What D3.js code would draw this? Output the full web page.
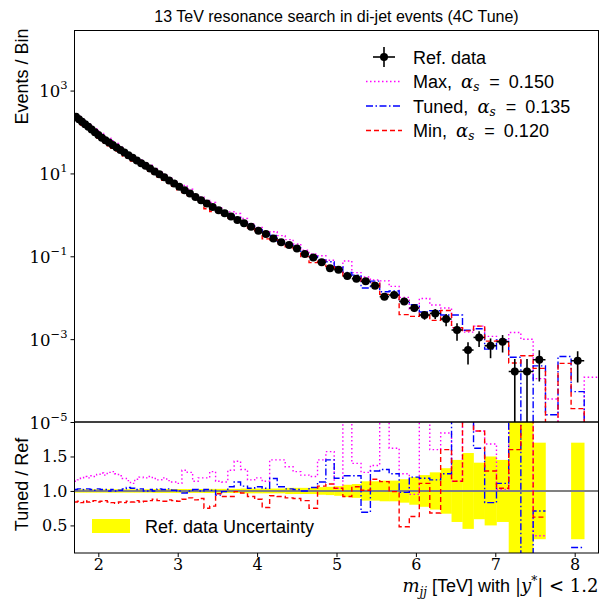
<!doctype html>
<html>
<head>
<meta charset="utf-8">
<title>13 TeV resonance search in di-jet events</title>
<script src="https://cdn.jsdelivr.net/npm/d3@7"></script>
<style>
  html, body { margin: 0; padding: 0; background: #fff; }
  svg { display: block; }
  .sans { font-family: "Liberation Sans", Arial, sans-serif; }
  .serif { font-family: "DejaVu Serif", "Liberation Serif", serif; }
</style>
</head>
<body>
<div id="chart"></div>
<script>
// ---- data ----
// bin edges, m_jj in TeV
const binEdges = [1.700, 1.737, 1.775, 1.814, 1.854, 1.895, 1.936, 1.979, 2.022, 2.066,
  2.112, 2.158, 2.205, 2.254, 2.303, 2.353, 2.405, 2.458, 2.512, 2.567,
  2.623, 2.680, 2.739, 2.799, 2.861, 2.923, 2.987, 3.053, 3.120, 3.188,
  3.258, 3.330, 3.403, 3.477, 3.553, 3.631, 3.711, 3.792, 3.879, 3.969,
  4.064, 4.158, 4.253, 4.354, 4.453, 4.550, 4.654, 4.761, 4.866, 4.971,
  5.080, 5.193, 5.309, 5.427, 5.544, 5.663, 5.789, 5.917, 6.043, 6.175,
  6.312, 6.449, 6.587, 6.726, 6.866, 7.015, 7.169, 7.322, 7.477, 7.632,
  7.790, 7.955, 8.120, 8.300];

// reference data, events / bin (null = empty bin)
const refData = [234, 204, 177, 154, 134, 115, 99.3, 85.1, 72.8, 63.2,
  55.5, 48.5, 42.3, 36.7, 31.8, 27.5, 23.8, 20.6, 17.7, 15.3,
  13.1, 11.2, 9.55, 8.07, 6.79, 5.69, 4.75, 3.95, 3.27, 2.71,
  2.26, 1.87, 1.55, 1.30, 1.09, 0.910, 0.755, 0.624, 0.519, 0.415,
  0.346, 0.270, 0.217, 0.187, 0.155, 0.114, 0.0940, 0.0713, 0.0511, 0.0474,
  0.0334, 0.0288, 0.0248, 0.0195, 0.0106, 0.0116, 0.00815, 0.00564, 0.00382, 0.00418,
  0.00306, 0.00166, 0.000546, 0.00110, 0.000693, 0.000865, 0.000166, 0.000166, 0.000318, null,
  null, 0.000301, null];

// relative uncertainty of the reference data
const refRelErr = [0.025, 0.025, 0.025, 0.025, 0.025, 0.025, 0.025, 0.025, 0.025, 0.025,
  0.025, 0.025, 0.025, 0.025, 0.025, 0.025, 0.025, 0.025, 0.025, 0.025,
  0.025, 0.028, 0.028, 0.028, 0.028, 0.028, 0.028, 0.028, 0.028, 0.028,
  0.028, 0.03, 0.03, 0.03, 0.03, 0.03, 0.03, 0.035, 0.035, 0.035,
  0.035, 0.035, 0.035, 0.045, 0.045, 0.045, 0.045, 0.055, 0.06, 0.07,
  0.09, 0.10, 0.14, 0.14, 0.15, 0.15, 0.17, 0.20, 0.23, 0.27,
  0.33, 0.45, 0.55, 0.41, 0.50, 0.45, 1.0, 1.0, 0.70, null,
  null, 0.70, null];

// MC / reference ratios
const ratioMax = [1.14, 1.16, 1.19, 1.21, 1.19, 1.22, 1.21, 1.24, 1.26, 1.23,
  1.27, 1.28, 1.25, 1.22, 1.18, 1.15, 1.11, 1.17, 1.20, 1.19,
  1.21, 1.18, 1.16, 1.19, 1.15, 1.13, 1.11, 1.30, 1.27, 1.14,
  1.19, 1.19, 1.28, 1.14, 1.13, 1.30, 1.43, 1.31, 1.16, 1.19,
  1.14, 1.45, 1.45, 1.35, 1.28, 1.23, 1.21, 1.45, 1.57, 1.04,
  2.30, 1.40, 1.27, 1.37, 2.40, 1.62, 1.25, 0.95, 2.50, 1.60,
  1.84, 1.14, 2.70, 1.87, 1.68, 1.02, 8.70, 6.00, 0.35, null,
  null, 0, null];
const ratioTuned = [1.02, 1.03, 1.02, 1.03, 1.03, 1.02, 1.01, 1.03, 1.02, 1.02,
  1.00, 1.02, 1.00, 1.01, 1.03, 1.05, 1.04, 1.02, 1.03, 1.00,
  1.02, 1.00, 1.03, 1.02, 1.03, 1.01, 1.00, 0.97, 1.00, 1.02,
  1.00, 1.02, 1.01, 0.94, 0.99, 1.06, 1.13, 1.07, 1.04, 1.06,
  1.04, 1.18, 1.06, 1.03, 1.02, 1.00, 1.05, 1.13, 1.45, 1.185,
  1.22, 1.22, 0.69, 1.29, 1.31, 1.25, 0.98, 1.20, 1.185, 1.16,
  1.25, 2.30, 3.00, 1.62, 0.83, 1.11, 2.20, 0, 0.71, null,
  null, 0.18, null];
const ratioMin = [0.84, 0.85, 0.83, 0.86, 0.84, 0.85, 0.86, 0.84, 0.85, 0.86,
  0.84, 0.83, 0.82, 0.84, 0.83, 0.85, 0.84, 0.86, 0.84, 0.85,
  0.86, 0.88, 0.86, 0.85, 0.87, 0.86, 0.85, 0.88, 0.90, 0.87,
  0.89, 0.75, 0.78, 0.96, 0.92, 0.92, 0.99, 0.97, 0.92, 0.88,
  0.76, 0.93, 0.92, 0.90, 0.89, 0.86, 0.75, 1.07, 1.10, 1.04,
  0.92, 1.06, 1.01, 1.17, 1.135, 0.99, 0.48, 0.63, 1.11, 0.68,
  1.60, 1.14, 2.90, 1.87, 1.29, 1.04, 1.60, 2.40, 0.62, null,
  null, 0.07, null];

// MC values in the bins where the reference is empty
const emptyBins = [69, 70, 72];
const maxEmpty = [3.6e-5, 0, 1.2e-4];
const tunedEmpty = [1.5e-5, 3.8e-4, 0];
const minEmpty = [0, 2.6e-4, 0];

const xTicks = [2, 3, 4, 5, 6, 7, 8];
const yExpTicks = [3, 1, -1, -3, -5];
const ratioTicks = [0.5, 1.0, 1.5];

// ---- layout ----
const W = 603, H = 599;
const plotL = 74.5, plotR = 598.5, plotT = 30.5, plotSplit = 422, plotB = 553;

const svg = d3.select('#chart').append('svg')
  .attr('width', W).attr('height', H);

const x = d3.scaleLinear().domain([1.70, 8.30]).range([plotL, plotR]);
const yMain = d3.scaleLog().domain([1e-5, Math.pow(10, 4.45)]).range([plotSplit, plotT]);
const yRatio = d3.scaleLinear().domain([0.1, 2.0]).range([plotB, plotSplit]);

const defs = svg.append('defs');
defs.append('clipPath').attr('id', 'clipMain').append('rect')
  .attr('x', plotL).attr('y', plotT).attr('width', plotR - plotL).attr('height', plotSplit - plotT);
defs.append('clipPath').attr('id', 'clipRatio').append('rect')
  .attr('x', plotL).attr('y', plotSplit).attr('width', plotR - plotL).attr('height', plotB - plotSplit);

const bins = refData.map((v, i) => ({i: i, lo: binEdges[i], hi: binEdges[i + 1], v: v, err: refRelErr[i]}));

const series = [
  {name: 'Max', alpha: '0.150', color: '#ff00ff', dash: '1.5,2.5', ratio: ratioMax, empty: maxEmpty},
  {name: 'Tuned', alpha: '0.135', color: '#0000ff', dash: '7,2.5,1.5,2.5', ratio: ratioTuned, empty: tunedEmpty},
  {name: 'Min', alpha: '0.120', color: '#ff0000', dash: '5,3', ratio: ratioMin, empty: minEmpty}
];

function mcValues(s) {
  return bins.map(b => {
    if (b.v != null) return b.v * s.ratio[b.i];
    const k = emptyBins.indexOf(b.i);
    return k >= 0 ? s.empty[k] : 0;
  });
}

function steps(vals) {
  const pts = [];
  bins.forEach((b, i) => {
    pts.push({x: b.lo, v: vals[i]});
    pts.push({x: b.hi, v: vals[i]});
  });
  return pts;
}

// ---- main panel ----
const gMain = svg.append('g').attr('clip-path', 'url(#clipMain)');

const mainLine = d3.line()
  .x(p => x(p.x))
  .y(p => p.v > 0 ? yMain(p.v) : plotSplit + 30);

series.forEach(s => {
  gMain.append('path')
    .attr('d', mainLine(steps(mcValues(s))))
    .attr('fill', 'none')
    .attr('stroke', s.color)
    .attr('stroke-width', 1.4)
    .attr('stroke-dasharray', s.dash);
});

const pts = bins.filter(b => b.v != null);
const gPts = gMain.append('g');
gPts.selectAll('line.xerr').data(pts).join('line')
  .attr('class', 'xerr')
  .attr('x1', d => x(d.lo)).attr('x2', d => x(d.hi))
  .attr('y1', d => yMain(d.v)).attr('y2', d => yMain(d.v))
  .attr('stroke', 'black').attr('stroke-width', 1.6);
gPts.selectAll('line.yerr').data(pts).join('line')
  .attr('class', 'yerr')
  .attr('x1', d => x((d.lo + d.hi) / 2)).attr('x2', d => x((d.lo + d.hi) / 2))
  .attr('y1', d => yMain(d.v * (1 + d.err)))
  .attr('y2', d => d.v * (1 - d.err) > 0 ? yMain(d.v * (1 - d.err)) : plotSplit + 10)
  .attr('stroke', 'black').attr('stroke-width', 1.6);
gPts.selectAll('circle').data(pts).join('circle')
  .attr('cx', d => x((d.lo + d.hi) / 2))
  .attr('cy', d => yMain(d.v))
  .attr('r', 4)
  .attr('fill', 'black');

// ---- ratio panel ----
const gRatio = svg.append('g').attr('clip-path', 'url(#clipRatio)');

gRatio.selectAll('rect.band').data(pts).join('rect')
  .attr('class', 'band')
  .attr('x', d => x(d.lo))
  .attr('width', d => x(d.hi) - x(d.lo) + 0.3)
  .attr('y', d => yRatio(1 + d.err))
  .attr('height', d => yRatio(1 - d.err) - yRatio(1 + d.err))
  .attr('fill', '#ffff00');

gRatio.append('line')
  .attr('x1', plotL).attr('x2', plotR)
  .attr('y1', yRatio(1)).attr('y2', yRatio(1))
  .attr('stroke', '#808080').attr('stroke-width', 2);

const ratioLine = d3.line()
  .defined(p => p.v != null)
  .x(p => x(p.x))
  .y(p => yRatio(Math.max(p.v, -1)));

series.forEach(s => {
  gRatio.append('path')
    .attr('d', ratioLine(steps(s.ratio)))
    .attr('fill', 'none')
    .attr('stroke', s.color)
    .attr('stroke-width', 1.4)
    .attr('stroke-dasharray', s.dash);
});

// ---- frames and axes ----
svg.append('rect')
  .attr('x', plotL).attr('y', plotT).attr('width', plotR - plotL).attr('height', plotSplit - plotT)
  .attr('fill', 'none').attr('stroke', 'black').attr('stroke-width', 1);
svg.append('rect')
  .attr('x', plotL).attr('y', plotSplit).attr('width', plotR - plotL).attr('height', plotB - plotSplit)
  .attr('fill', 'none').attr('stroke', 'black').attr('stroke-width', 1);

const axMain = svg.append('g').attr('transform', `translate(${plotL},0)`)
  .call(d3.axisLeft(yMain).tickValues(yExpTicks.map(e => Math.pow(10, e))).tickSize(4).tickSizeOuter(0).tickFormat(''));
axMain.select('.domain').remove();
axMain.selectAll('.tick').each(function(d) {
  const e = Math.round(Math.log10(d));
  const t = d3.select(this).append('text')
    .attr('class', 'serif')
    .attr('x', -7).attr('y', 6)
    .attr('text-anchor', 'end')
    .attr('fill', 'black')
    .style('font-size', '16.5px');
  t.append('tspan').text('10');
  t.append('tspan').attr('dy', -8).style('font-size', '11.5px')
    .text(e < 0 ? '\u2212' + Math.abs(e) : String(e));
});

const axRatio = svg.append('g').attr('transform', `translate(${plotL},0)`)
  .call(d3.axisLeft(yRatio).tickValues(ratioTicks).tickSize(4).tickSizeOuter(0).tickFormat(d3.format('.1f')));
axRatio.select('.domain').remove();
axRatio.selectAll('text').attr('class', 'serif').style('font-size', '16px').attr('fill', 'black');

const axX = svg.append('g').attr('transform', `translate(0,${plotB})`)
  .call(d3.axisBottom(x).tickValues(xTicks).tickSize(4).tickSizeOuter(0).tickFormat(d3.format('d')));
axX.select('.domain').remove();
axX.selectAll('text').attr('class', 'serif').style('font-size', '16px').attr('fill', 'black').attr('dy', '0.62em');

svg.selectAll('.tick line').attr('stroke', 'black');

// ---- labels ----
svg.append('text')
  .attr('class', 'sans')
  .attr('x', (plotL + plotR) / 2).attr('y', 22)
  .attr('text-anchor', 'middle')
  .style('font-size', '16px')
  .text('13 TeV resonance search in di-jet events (4C Tune)');

svg.append('text')
  .attr('class', 'sans')
  .attr('transform', `translate(28,${plotT - 2}) rotate(-90)`)
  .attr('text-anchor', 'end')
  .style('font-size', '18px')
  .text('Events / Bin');

svg.append('text')
  .attr('class', 'sans')
  .attr('transform', `translate(28,${(plotSplit + plotB) / 2 - 3}) rotate(-90)`)
  .attr('text-anchor', 'middle')
  .style('font-size', '18px')
  .text('Tuned / Ref');

const xl = svg.append('text')
  .attr('x', plotR).attr('y', 592)
  .attr('text-anchor', 'end')
  .style('font-size', '18px');
xl.append('tspan').attr('class', 'serif').style('font-style', 'italic').text('m');
xl.append('tspan').attr('class', 'serif').style('font-style', 'italic').style('font-size', '12px').attr('dy', 4).text('jj');
xl.append('tspan').attr('class', 'sans').attr('dy', -4).text(' [TeV] with ');
xl.append('tspan').attr('class', 'serif').text('|');
xl.append('tspan').attr('class', 'serif').style('font-style', 'italic').text('y');
xl.append('tspan').attr('class', 'serif').style('font-size', '12px').attr('dy', -7).text('*');
xl.append('tspan').attr('class', 'serif').attr('dy', 7).text('| < 1.2');

// legend, main panel
const legX = 366, legTextX = 413, legY0 = 57, legStep = 24.5;
const lg = svg.append('g');
lg.append('line').attr('x1', legX + 7).attr('x2', legX + 29).attr('y1', legY0).attr('y2', legY0)
  .attr('stroke', 'black').attr('stroke-width', 1.6);
lg.append('line').attr('x1', legX + 18).attr('x2', legX + 18).attr('y1', legY0 - 10).attr('y2', legY0 + 10)
  .attr('stroke', 'black').attr('stroke-width', 1.6);
lg.append('circle').attr('cx', legX + 18).attr('cy', legY0).attr('r', 4).attr('fill', 'black');
lg.append('text').attr('class', 'sans').attr('x', legTextX).attr('y', legY0 + 6.5)
  .style('font-size', '18px').text('Ref. data');

series.forEach((s, k) => {
  const yy = legY0 + legStep * (k + 1);
  lg.append('line').attr('x1', legX).attr('x2', legX + 36).attr('y1', yy).attr('y2', yy)
    .attr('stroke', s.color).attr('stroke-width', 1.4).attr('stroke-dasharray', s.dash);
  const t = lg.append('text').attr('x', legTextX).attr('y', yy + 6.5).style('font-size', '18px');
  t.append('tspan').attr('class', 'sans').text(s.name + ',');
  t.append('tspan').attr('class', 'serif').style('font-style', 'italic').attr('dx', 9).text('\u03b1');
  t.append('tspan').attr('class', 'serif').style('font-style', 'italic').style('font-size', '12px').attr('dy', 3).text('s');
  t.append('tspan').attr('class', 'sans').attr('dy', -3).attr('dx', 10).text('=');
  t.append('tspan').attr('class', 'sans').attr('dx', 9).text(s.alpha);
});

// legend, ratio panel
svg.append('rect').attr('x', 92).attr('y', 519).attr('width', 38).attr('height', 14).attr('fill', '#ffff00');
svg.append('text').attr('class', 'sans').attr('x', 145).attr('y', 533)
  .style('font-size', '18px').text('Ref. data Uncertainty');
</script>
</body>
</html>
